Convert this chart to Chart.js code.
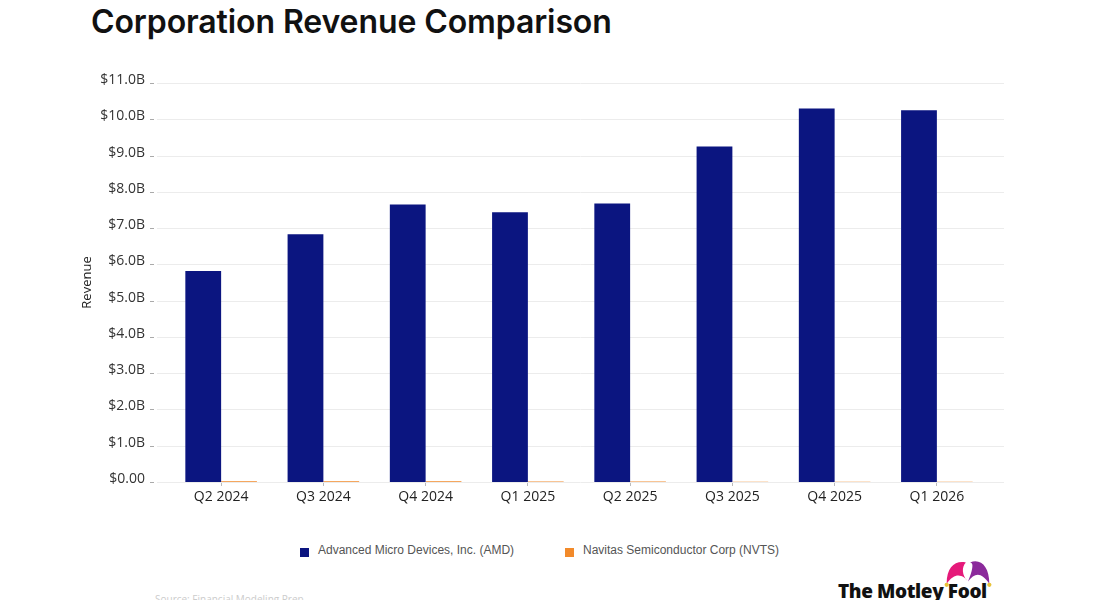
<!DOCTYPE html>
<html>
<head>
<meta charset="utf-8">
<script src="https://cdn.jsdelivr.net/npm/chart.js@4.4.1/dist/chart.umd.min.js"></script>
<style>
    html, body { margin: 0; padding: 0; background: #fff; overflow: hidden; }
    body { width: 1095px; height: 600px; position: relative; font-family: 'Open Sans', sans-serif; }
    .title { position: absolute; left: 91px; top: 2px; font-family: Inter, sans-serif; font-weight: 600; font-size: 32px; color: #111; letter-spacing: -0.1px; }
    .chart-wrap { position: absolute; left: 0; top: 50px; width: 1095px; height: 460px; }
    .legend { position: absolute; top: 543px; left: 0; width: 1095px; font-family: 'Liberation Sans', Arial, sans-serif; font-size: 12px; color: #555; }
    .legend .item { position: absolute; display: flex; align-items: center; white-space: nowrap; }
    .legend .box { width: 9px; height: 9px; margin-right: 9px; margin-top: 4px; }
    .source { position: absolute; left: 155px; top: 592px; font-size: 10px; color: #ccc; }
    .logo { position: absolute; left: 838px; top: 556px; }
    .logo .name { position: absolute; left: 0; top: 22px; font-family: 'Open Sans', sans-serif; font-weight: 800; font-size: 19px; color: #111; white-space: nowrap; letter-spacing: -0.4px; }
    .logo svg { position: absolute; left: 104px; top: 0; }
</style>
</head>
<body>
<div class="title">Corporation Revenue Comparison</div>
<div class="chart-wrap"><canvas id="revenueChart"></canvas></div>
<div class="legend" id="legend"></div>
<div class="source">Source: Financial Modeling Prep</div>
<div class="logo">
    <svg width="52" height="32" viewBox="0 0 48 30">
        <path d="M4 26 C4 10 12 4 22 6 C18 10 18 18 24 24 C20 18 12 14 4 26 Z" fill="#e5197a"/>
        <path d="M24 24 C28 14 30 6 26 6 C36 2 44 10 44 26 C36 14 30 16 24 24 Z" fill="#8b2a9b"/>
        <circle cx="4" cy="27" r="2" fill="#e8c23a"/>
        <circle cx="44" cy="27" r="2" fill="#e8c23a"/>
    </svg>
    <div class="name">The Motley Fool</div>
</div>
<script>
const quarters = ['Q2 2024', 'Q3 2024', 'Q4 2024', 'Q1 2025', 'Q2 2025', 'Q3 2025', 'Q4 2025', 'Q1 2026'];
// revenue in $ billions
const amdRevenue = [5.82, 6.83, 7.65, 7.44, 7.68, 9.25, 10.30, 10.25];
const nvtsRevenue = [0.021, 0.022, 0.018, 0.014, 0.014, 0.008, 0.007, 0.007];
const seriesNames = ['Advanced Micro Devices, Inc. (AMD)', 'Navitas Semiconductor Corp (NVTS)'];
const seriesColors = ['#0b1580', '#f28a2a'];
const legendLeft = [300, 565];

// light gridlines a bit wider than the bar area, plus small tick dashes
const gridPlugin = {
    id: 'wideGrid',
    beforeDatasetsDraw(chart) {
        const { ctx, chartArea, scales: { y } } = chart;
        ctx.save();
        y.ticks.forEach(t => {
            const py = Math.round(y.getPixelForValue(t.value)) + 0.5;
            ctx.strokeStyle = '#ececec';
            ctx.lineWidth = 1;
            ctx.beginPath();
            ctx.moveTo(chartArea.left - 13, py);
            ctx.lineTo(chartArea.right + 16, py);
            ctx.stroke();
            ctx.strokeStyle = '#aaa';
            ctx.beginPath();
            ctx.moveTo(chartArea.left - 20, py);
            ctx.lineTo(chartArea.left - 16, py);
            ctx.stroke();
        });
        ctx.restore();
    }
};

const ctx = document.getElementById('revenueChart').getContext('2d');
new Chart(ctx, {
    type: 'bar',
    data: {
        labels: quarters,
        datasets: [
            { label: seriesNames[0], data: amdRevenue, backgroundColor: seriesColors[0] },
            { label: seriesNames[1], data: nvtsRevenue, backgroundColor: seriesColors[1] }
        ]
    },
    options: {
        responsive: true,
        maintainAspectRatio: false,
        animation: false,
        layout: { padding: { top: 33, right: 107, bottom: 4, left: 0 } },
        datasets: { bar: { categoryPercentage: 0.7, barPercentage: 1 } },
        plugins: { legend: { display: false }, tooltip: { enabled: false } },
        scales: {
            x: {
                grid: { display: true, offset: false, drawOnChartArea: false, tickLength: 4, color: '#bbb' },
                border: { display: false },
                ticks: { color: '#222', padding: 3, font: { family: 'Open Sans', size: 14 } },
                afterFit: s => { s.height = 24; }
            },
            y: {
                min: 0, max: 11,
                grid: { display: false },
                border: { display: false },
                ticks: {
                    stepSize: 1,
                    padding: 17,
                    labelOffset: -3,
                    color: '#333',
                    font: { family: 'Open Sans', size: 14 },
                    callback: v => v === 0 ? '$0.00' : '$' + v.toFixed(1) + 'B'
                },
                title: { display: true, text: 'Revenue', color: '#222', font: { family: 'Open Sans', size: 13 }, padding: { top: 79 } },
                afterFit: s => { s.width = 170; }
            }
        }
    },
    plugins: [gridPlugin]
});

document.getElementById('legend').innerHTML = seriesNames.map((name, i) => `
    <div class="item" style="left:${legendLeft[i]}px">
        <div class="box" style="background:${seriesColors[i]}"></div><span>${name}</span>
    </div>`).join('');
</script>
</body>
</html>
